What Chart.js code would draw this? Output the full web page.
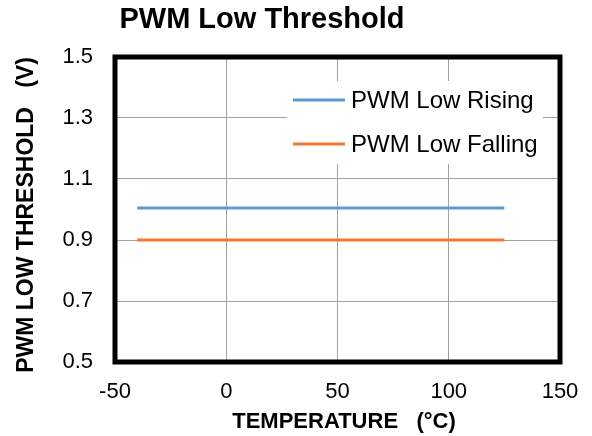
<!DOCTYPE html>
<html>
<head>
<meta charset="utf-8">
<script src="https://cdn.jsdelivr.net/npm/chart.js@4.4.1/dist/chart.umd.min.js"></script>
<style>
  html, body { margin: 0; padding: 0; background: #fff; }
  #wrap { width: 592px; height: 436px; position: relative; }
</style>
</head>
<body>
<div id="wrap"><canvas id="chart"></canvas></div>
<script>
/* ── DATA ─────────────────────────────────────────────── */
const temps      = [-40, -20, 0, 25, 50, 75, 100, 125];
const lowRising  = [1.005, 1.005, 1.005, 1.005, 1.005, 1.005, 1.005, 1.005];
const lowFalling = [0.9, 0.9, 0.9, 0.9, 0.9, 0.9, 0.9, 0.9];
const xTicks     = [-50, 0, 50, 100, 150];
const yTicks     = [0.5, 0.7, 0.9, 1.1, 1.3, 1.5];

const FONT = "'Liberation Sans', Arial, sans-serif";

/* ── LAYOUT ───────────────────────────────────────────── */
const AREA = { left: 115, right: 560, top: 57, bottom: 362 };

/* ── PLUGIN: frame, legend box, titles ────────────────── */
const decor = {
  id: 'decor',
  afterDatasetsDraw(chart) {
    const { ctx, chartArea: a } = chart;
    ctx.save();

    /* frame */
    ctx.strokeStyle = '#000';
    ctx.lineWidth = 5;
    ctx.strokeRect(a.left, a.top, a.right - a.left, a.bottom - a.top);

    /* legend */
    ctx.fillStyle = '#fff';
    ctx.fillRect(287, 81, 256, 83);
    chart.data.datasets.forEach((ds, i) => {
      const y = 100 + i * 44;
      ctx.strokeStyle = ds.borderColor;
      ctx.lineWidth = 3;
      ctx.beginPath();
      ctx.moveTo(293, y);
      ctx.lineTo(345, y);
      ctx.stroke();
      ctx.fillStyle = '#000';
      ctx.font = `24px ${FONT}`;
      ctx.textAlign = 'left';
      ctx.textBaseline = 'middle';
      ctx.fillText(ds.label, 351, y + 1);
    });

    /* chart title */
    ctx.fillStyle = '#000';
    ctx.font = `bold 29px ${FONT}`;
    ctx.textAlign = 'center';
    ctx.textBaseline = 'alphabetic';
    ctx.fillText('PWM Low Threshold', 262, 28);

    /* x axis title */
    ctx.font = `bold 22px ${FONT}`;
    ctx.fillText('TEMPERATURE   (\u00B0C)', 344, 428);

    /* y axis title */
    ctx.font = `bold 23px ${FONT}`;
    ctx.translate(33, 215);
    ctx.rotate(-Math.PI / 2);
    ctx.fillText('PWM LOW THRESHOLD   (V)', 0, 0);

    ctx.restore();
  }
};

/* ── CHART ────────────────────────────────────────────── */
const chart = new Chart(document.getElementById('chart'), {
  type: 'line',
  data: {
    datasets: [
      {
        label: 'PWM Low Rising',
        data: temps.map((t, i) => ({ x: t, y: lowRising[i] })),
        borderColor: '#5B9BD5',
        borderWidth: 3,
        pointRadius: 0,
        tension: 0
      },
      {
        label: 'PWM Low Falling',
        data: temps.map((t, i) => ({ x: t, y: lowFalling[i] })),
        borderColor: '#ED7D31',
        borderWidth: 3,
        pointRadius: 0,
        tension: 0
      }
    ]
  },
  options: {
    responsive: true,
    maintainAspectRatio: false,
    animation: false,
    layout: { padding: { top: AREA.top, right: 592 - AREA.right, left: 0, bottom: 0 } },
    plugins: {
      legend: { display: false },
      tooltip: { enabled: false },
      title: { display: false }
    },
    scales: {
      x: {
        type: 'linear',
        min: -50,
        max: 150,
        afterBuildTicks: s => { s.ticks = xTicks.map(v => ({ value: v })); },
        afterFit: s => {
          s.height = 436 - AREA.bottom;
          s.paddingLeft = 0;
          s.paddingRight = 0;
        },
        grid: { color: '#a0a0a0', lineWidth: 1, drawTicks: false },
        border: { display: false },
        ticks: {
          color: '#000',
          padding: 17,
          font: { size: 22, family: FONT }
        }
      },
      y: {
        min: 0.5,
        max: 1.5,
        afterBuildTicks: s => { s.ticks = yTicks.map(v => ({ value: v })); },
        afterFit: s => { s.width = AREA.left; },
        grid: { color: '#a0a0a0', lineWidth: 1, drawTicks: false },
        border: { display: false },
        ticks: {
          color: '#000',
          padding: 22,
          font: { size: 22, family: FONT },
          callback: v => v.toFixed(1)
        }
      }
    }
  },
  plugins: [decor]
});
</script>
</body>
</html>
